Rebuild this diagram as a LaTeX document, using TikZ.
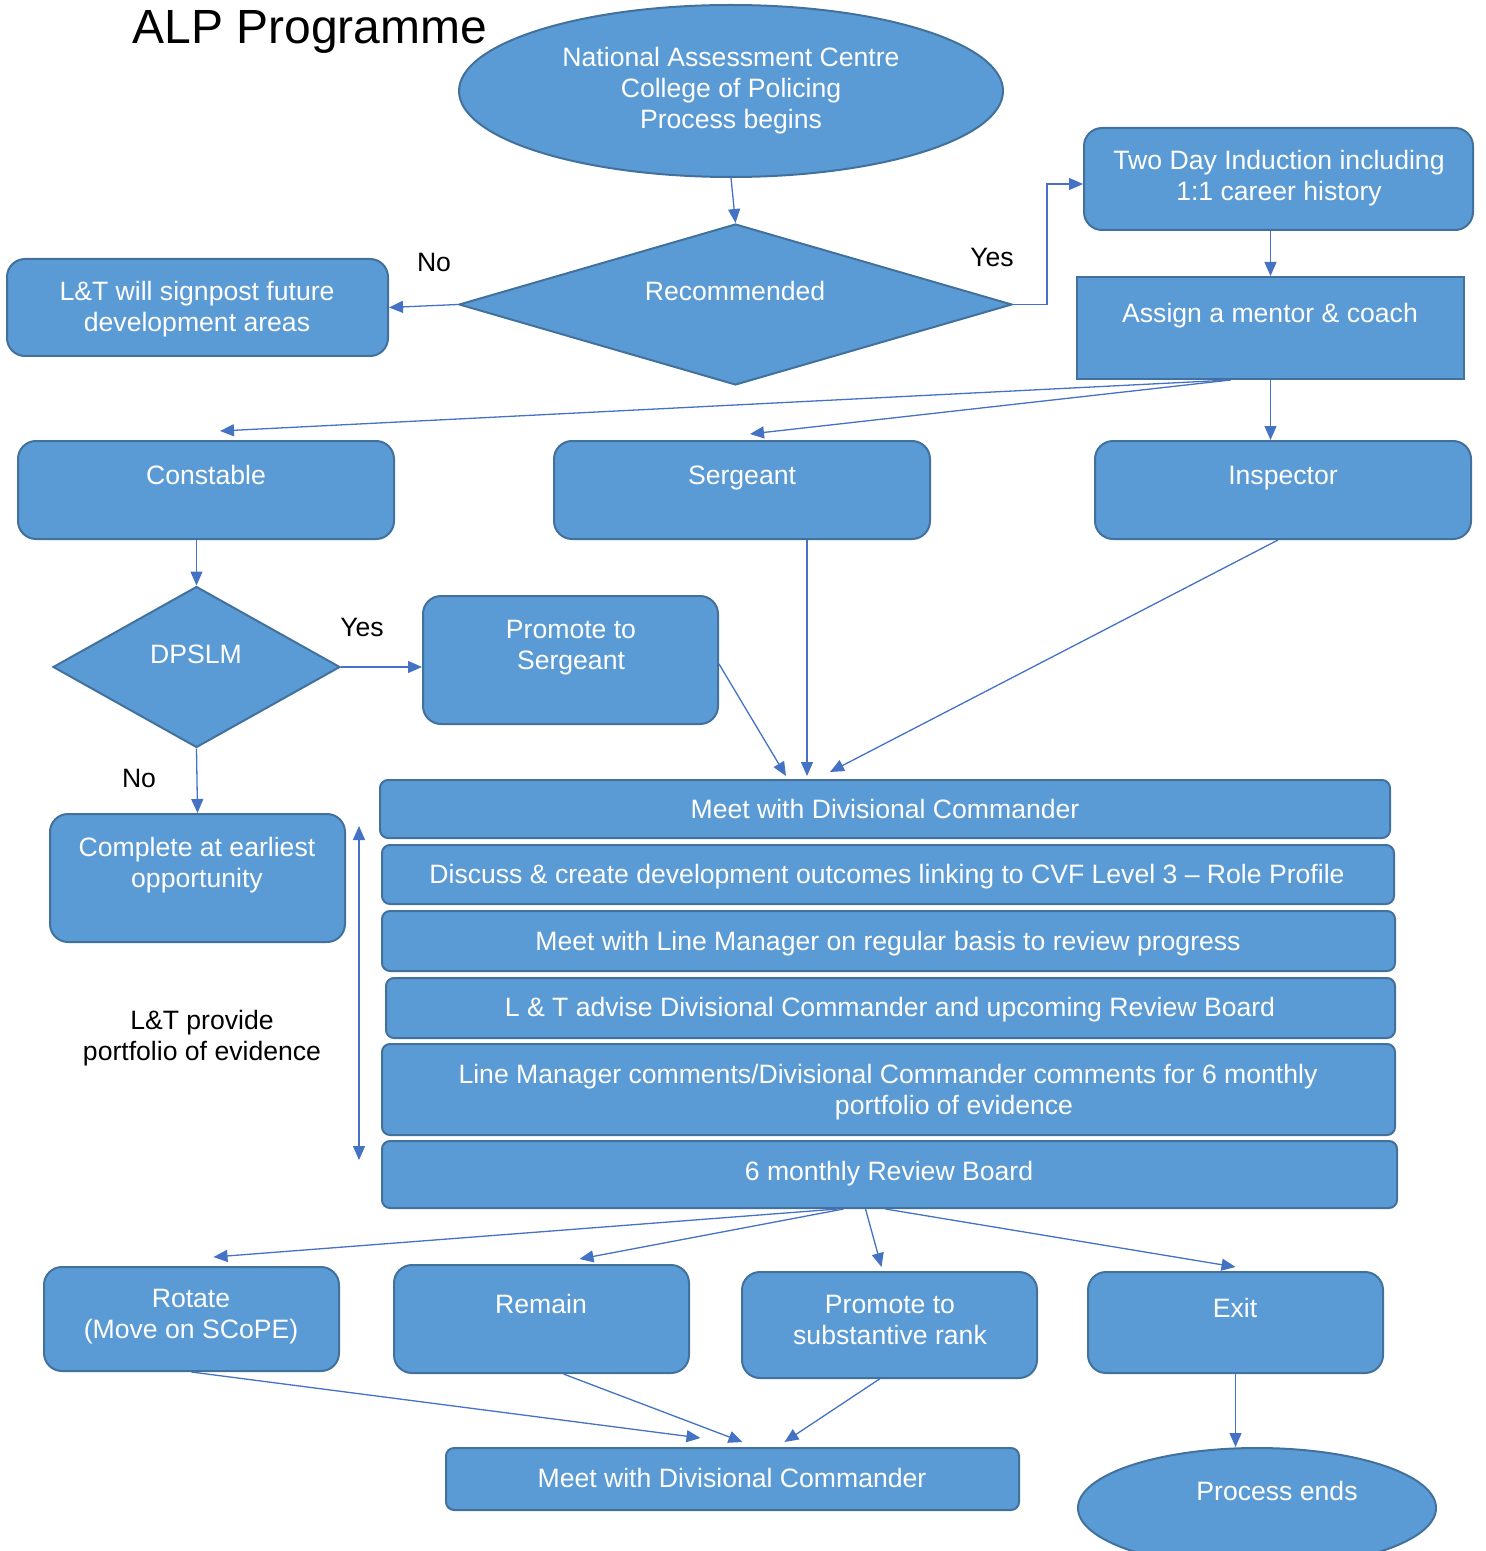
\documentclass[tikz,border=0pt]{standalone}
\usepackage{fontspec}
\setmainfont{Liberation Sans}
\usetikzlibrary{shapes.geometric,fit,arrows.meta}
\definecolor{boxfill}{HTML}{5B9BD5}
\definecolor{boxline}{HTML}{41719C}
\definecolor{arrowc}{HTML}{4472C4}
\begin{document}
\begin{tikzpicture}[x=0.5pt,y=-0.5pt,
  box/.style={draw=boxline, fill=boxfill, line width=1pt, rounded corners=9pt, inner sep=0pt},
  strip/.style={box, rounded corners=4pt},
  sbox/.style={box, rounded corners=0pt},
  dia/.style={diamond, draw=boxline, fill=boxfill, line width=1pt, inner sep=0pt},
  ell/.style={ellipse, draw=boxline, fill=boxfill, line width=1pt, inner sep=0pt},
  lbl/.style={text=white, font=\fontsize{13.3}{15.5}\selectfont, align=center, inner sep=0pt, text depth=0pt},
  note/.style={text=black, font=\fontsize{13.3}{15.5}\selectfont, align=center, inner sep=0pt, text depth=0pt},
  arr/.style={draw=arrowc, line width=0.65pt, -{Triangle[length=7pt,width=6pt]}},
  darr/.style={draw=arrowc, line width=0.65pt, {Triangle[length=7pt,width=6pt]}-{Triangle[length=7pt,width=6pt]}},
]
\useasboundingbox (0,0) rectangle (1485,1551);
\begin{scope}
\clip (0,0) rectangle (1485,1551);

% title
\node[text=black, font=\fontsize{24}{28}\selectfont, inner sep=0pt, text depth=0pt] (title) at (310,27) {ALP Programme};

% top of the flow
\node[ell, minimum width=272pt, minimum height=86pt] (nac) at (731,91) {};
\node[dia, minimum width=276.5pt, minimum height=80.5pt] (rec) at (735.5,304.5) {};
\node[box, fit={(7,259) (388,356)}] (lt) {};
\node[box, fit={(1084,128) (1473,230)}] (twoday) {};
\node[sbox, fit={(1077,277) (1464,379)}] (assign) {};

% ranks
\node[box, fit={(18,441) (394,539)}] (constable) {};
\node[box, fit={(554,441) (930,539)}] (sergeant) {};
\node[box, fit={(1095,441) (1471,539)}] (inspector) {};
\node[dia, minimum width=143.5pt, minimum height=80.5pt] (dpslm) at (196.5,667) {};
\node[box, fit={(423,596) (718,724)}] (promote) {};
\node[box, fit={(50,814) (345,942)}] (complete) {};

% development steps
\node[strip, fit={(380,780) (1390,838)}] (meet1) {};
\node[strip, fit={(382,845) (1394,904)}] (discuss) {};
\node[strip, fit={(382,911) (1395,971)}] (linemgr) {};
\node[strip, fit={(386,978) (1395,1038)}] (advise) {};
\node[strip, fit={(382,1044) (1395,1135)}] (comments) {};
\node[strip, fit={(382,1141) (1397,1208)}] (review) {};

% outcomes
\node[box, fit={(44,1267) (339,1371)}] (rotate) {};
\node[box, fit={(394,1265) (689,1373)}] (remain) {};
\node[box, fit={(742,1272) (1037,1378)}] (psub) {};
\node[box, fit={(1088,1272) (1383,1373)}] (exit) {};
\node[strip, fit={(446,1448) (1019,1510)}] (meet2) {};
\node[ell, minimum width=179pt, minimum height=60pt] (pend) at (1257,1508) {};

% texts
\node[lbl] at (731,88) {National Assessment Centre\\College of Policing\\Process begins};
\node[lbl] at (735,291) {Recommended};
\node[lbl] at (197,306) {L\&T will signpost future\\development areas};
\node[lbl] at (1279,175.5) {Two Day Induction including\\1:1 career history};
\node[lbl] at (1270,313) {Assign a mentor \& coach};
\node[lbl] at (206,475) {Constable};
\node[lbl] at (742,475) {Sergeant};
\node[lbl] at (1283,475) {Inspector};
\node[lbl] at (196,654) {DPSLM};
\node[lbl] at (571,644.5) {Promote to\\Sergeant};
\node[lbl] at (197,862.5) {Complete at earliest\\opportunity};
\node[lbl] at (885,809) {Meet with Divisional Commander};
\node[lbl] at (887,874) {Discuss \& create development outcomes linking to CVF Level 3 – Role Profile};
\node[lbl] at (888,941) {Meet with Line Manager on regular basis to review progress};
\node[lbl] at (890,1007) {L \& T advise Divisional Commander and upcoming Review Board};
\node[lbl] at (888,1089.5) {Line Manager comments/Divisional Commander comments for 6 monthly\\\hspace*{66pt}portfolio of evidence};
\node[lbl] at (889,1171) {6 monthly Review Board};
\node[lbl] at (191,1314) {Rotate\\(Move on SCoPE)};
\node[lbl] at (541,1304) {Remain};
\node[lbl] at (890,1319.5) {Promote to\\substantive rank};
\node[lbl] at (1235,1308) {Exit};
\node[lbl] at (732,1478) {Meet with Divisional Commander};
\node[lbl] at (1277,1491) {Process ends};

% black annotations
\node[note] (no1) at (434,262) {No};
\node[note] (yes1) at (992,257) {Yes};
\node[note] (yes2) at (362,627) {Yes};
\node[note] (no2) at (139,778) {No};
\node[note] (portfolio) at (202,1035) {L\&T provide\\portfolio of evidence};

% connectors
\draw[arr] (nac.south) -- (rec.north);
\draw[arr] (rec.west) -- (lt.east);
\draw[arr] (rec.east) -- ++(34,0) |- ([yshift=-2.5pt]twoday.west);
\draw[arr] (twoday.south -| assign.north) -- (assign.north);
\draw[arr] ([xshift=-20pt]assign.south) -- ([xshift=7pt,yshift=4.5pt]constable.north);
\draw[arr] ([xshift=-20pt]assign.south) -- ([xshift=4pt,yshift=3pt]sergeant.north);
\draw[arr] (assign.south) -- (assign.south |- inspector.north);
\draw[arr] (constable.south -| dpslm.north) -- (dpslm.north);
\draw[arr] (dpslm.east) -- (dpslm.east -| promote.west);
\draw[arr] (dpslm.south) -- (complete.north);
\coordinate (m1) at ([xshift=-49.5pt,yshift=1.5pt]meet1.north);
\coordinate (m2) at ([xshift=-39pt,yshift=1.5pt]meet1.north);
\coordinate (m3) at ([xshift=-27.5pt,yshift=3.5pt]meet1.north);
\draw[arr] ([yshift=-2pt]promote.east) -- (m1);
\draw[arr] (sergeant.south -| m2) -- (m2);
\draw[arr] ([xshift=-2.5pt]inspector.south) -- (m3);
\coordinate (vt) at (359,826);
\coordinate (vb) at (359,1160);
\draw[darr] (vt) -- (vb);

\draw[arr] ([xshift=-26pt]review.south) -- ([xshift=11pt,yshift=4.5pt]rotate.north);
\draw[arr] ([xshift=-23pt]review.south) -- ([xshift=19pt,yshift=2.5pt]remain.north);
\draw[arr] ([xshift=-12pt]review.south) -- ([xshift=-4pt,yshift=2pt]psub.north);
\draw[arr] ([xshift=-2pt]review.south) -- ([yshift=2pt]exit.north);

\draw[arr] (rotate.south) -- ([xshift=-16pt,yshift=4.5pt]meet2.north);
\draw[arr] ([xshift=11pt]remain.south) -- ([xshift=5pt,yshift=2.5pt]meet2.north);
\draw[arr] ([xshift=-5pt]psub.south) -- ([xshift=26pt,yshift=2.5pt]meet2.north);
\draw[arr] (exit.south) -- (exit.south |- pend.north);
\end{scope}
\end{tikzpicture}
\end{document}
